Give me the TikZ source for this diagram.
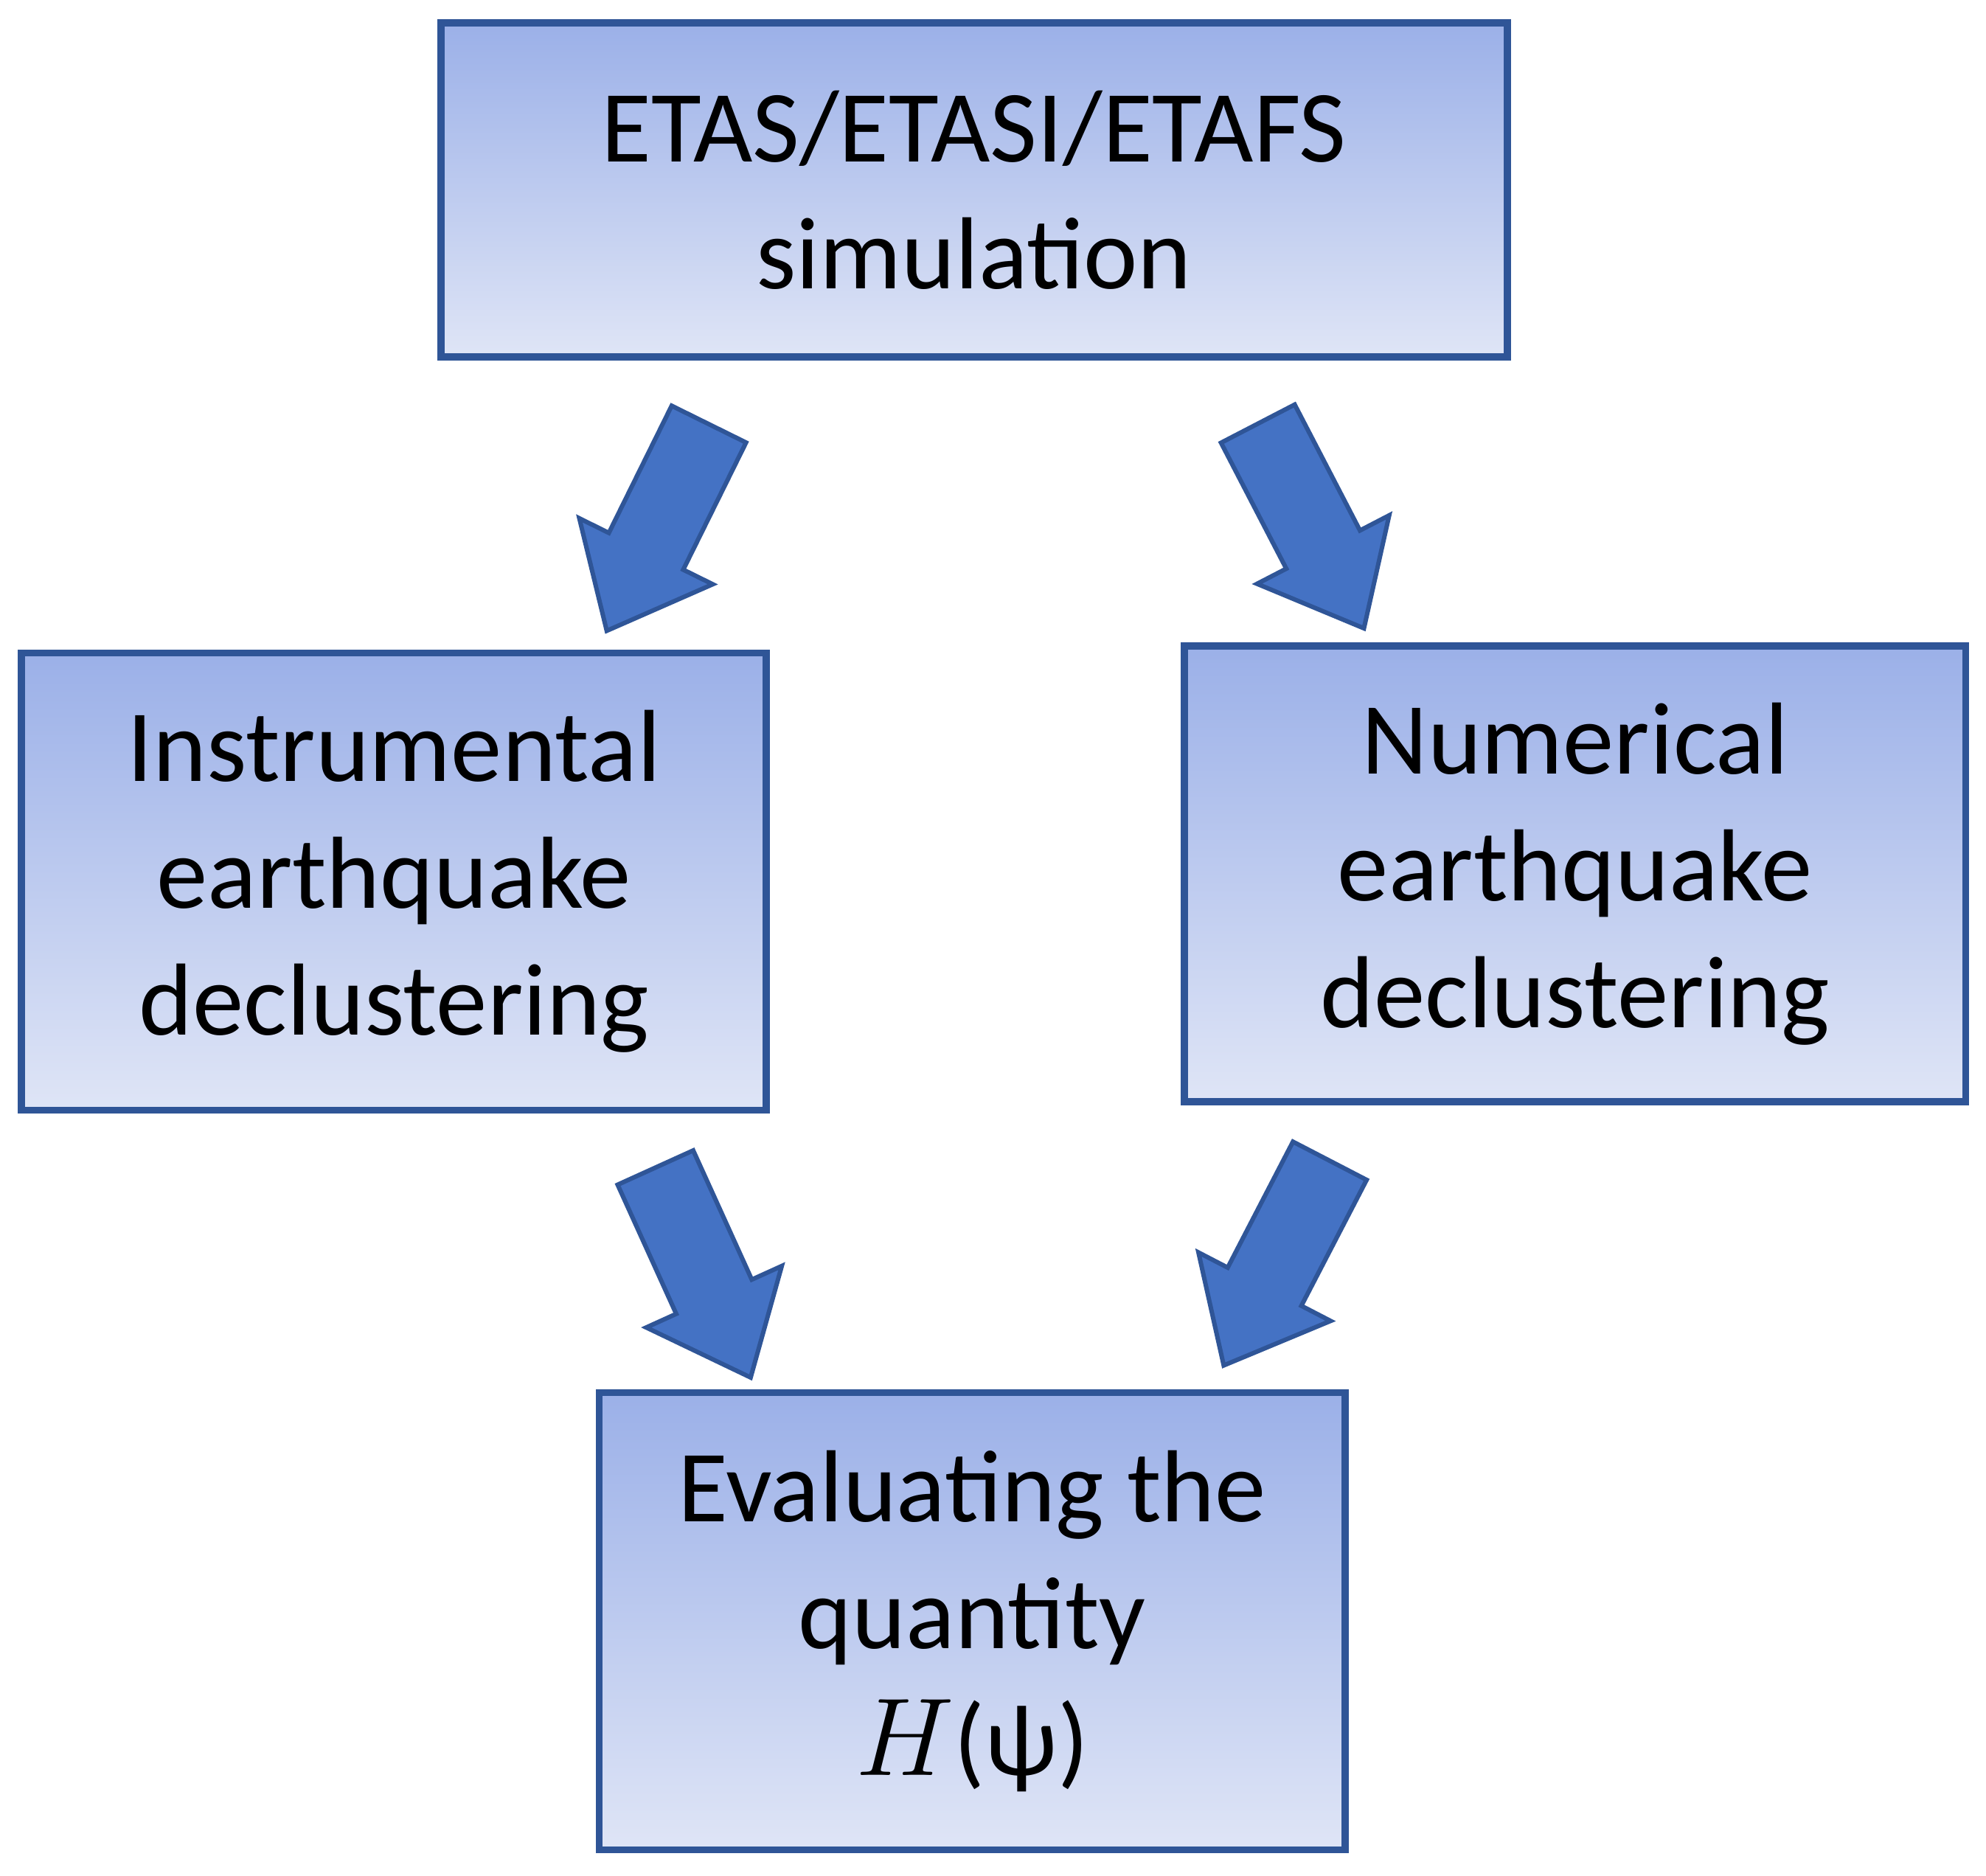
\documentclass[tikz,border=0pt]{standalone}
\usepackage{fontspec}
\setmainfont{Carlito}
\usetikzlibrary{shapes.arrows}
\definecolor{boxtop}{HTML}{9BB0E8}
\definecolor{boxbot}{HTML}{DFE5F6}
\definecolor{boxline}{HTML}{2F5597}
\definecolor{arrfill}{HTML}{4472C4}
\begin{document}
\begin{tikzpicture}[
  box/.style={draw=boxline, line width=1.6pt, top color=boxtop, bottom color=boxbot,
    align=center, font=\fontsize{23}{28.5}\selectfont, inner sep=0pt},
  barrow/.style={single arrow, draw=boxline, line width=1pt, fill=arrfill,
    minimum height=1.82cm, minimum width=1.14cm, inner sep=0.31cm,
    single arrow head extend=0.26cm, single arrow tip angle=80}
]
\useasboundingbox (0,0) rectangle (15.68,14.81);
\node[box, minimum width=8.42cm, minimum height=2.64cm] (top) at (7.69,13.31) {ETAS/ETASI/ETAFS\\simulation};
\node[box, minimum width=5.88cm, minimum height=3.61cm] (left) at (3.11,7.85) {Instrumental\\earthquake\\declustering};
\node[box, minimum width=6.17cm, minimum height=3.60cm] (right) at (12.435,7.91) {Numerical\\earthquake\\declustering};
\node[box, minimum width=5.89cm, minimum height=3.61cm] (bot) at (7.675,2.01) {Evaluating the\\quantity\\$H$(ψ)};
\node[barrow, rotate=243.7] (a1) at (5.28,10.82) {};
\node[barrow, rotate=-62.6] (a2) at (10.26,10.83) {};
\node[barrow, rotate=-65.6] (a3) at (5.47,4.94) {};
\node[barrow, rotate=242.6] (a4) at (10.17,5.01) {};
\end{tikzpicture}
\end{document}
